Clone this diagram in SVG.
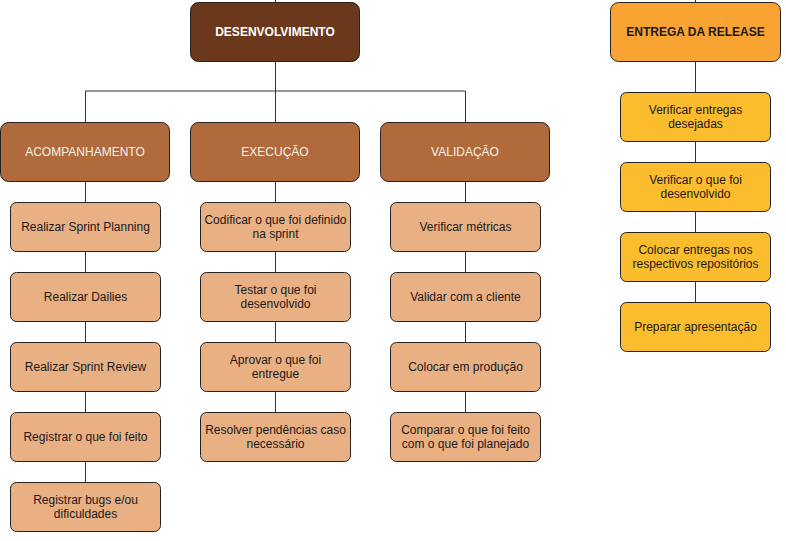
<svg xmlns="http://www.w3.org/2000/svg" width="786" height="541" viewBox="0 0 786 541">
<style>
.box{stroke:#222;stroke-width:1}
.top{fill:#6b381c}
.grp{fill:#b06a3b}
.item{fill:#e9b084}
.rel{fill:#f9a332}
.ritem{fill:#fbbd2e}
text{font-family:"Liberation Sans",Arial,sans-serif;font-size:12px;text-anchor:middle;dominant-baseline:central}
.wt{fill:#ffffff;font-weight:bold}
.lt{fill:#f5f0ea}
.dt{fill:#1a1a1a}
.bt{fill:#1a1a1a;font-weight:bold}
.ln{stroke:#333;stroke-width:1;fill:none}
</style>
<rect width="786" height="541" fill="#ffffff"/>
<g id="connectors">
<path class="ln" d="M275.5 0V2M695.5 0V2"/>
<path class="ln" d="M275.5 62V91M85.5 122V91H465.5V122M275.5 91V122"/>
<path class="ln" d="M85.5 182V202M85.5 252V272M85.5 322V342M85.5 392V412M85.5 462V482"/>
<path class="ln" d="M275.5 182V202M275.5 252V272M275.5 322V342M275.5 392V412"/>
<path class="ln" d="M465.5 182V202M465.5 252V272M465.5 322V342M465.5 392V412"/>
<path class="ln" d="M695.5 62V92M695.5 142V162M695.5 212V232M695.5 282V302"/>
</g>
<g id="desenvolvimento"><rect class="box top" x="190.5" y="2.5" width="169" height="59" rx="8"/><text class="wt" x="275" y="32">DESENVOLVIMENTO</text></g>
<g id="entrega"><rect class="box rel" x="610.5" y="2.5" width="170" height="59" rx="8"/><text class="bt" x="695.5" y="32">ENTREGA DA RELEASE</text></g>
<g id="acompanhamento"><rect class="box grp" x="0.5" y="122.5" width="169" height="59" rx="8"/><text class="lt" x="85" y="152">ACOMPANHAMENTO</text></g>
<g id="execucao"><rect class="box grp" x="190.5" y="122.5" width="169" height="59" rx="8"/><text class="lt" x="275" y="152">EXECUÇÃO</text></g>
<g id="validacao"><rect class="box grp" x="380.5" y="122.5" width="169" height="59" rx="8"/><text class="lt" x="465" y="152">VALIDAÇÃO</text></g>

<g id="a1"><rect class="box item" x="10.5" y="202.5" width="150" height="49" rx="6"/><text class="dt" x="85.5" y="227">Realizar Sprint Planning</text></g>
<g id="a2"><rect class="box item" x="10.5" y="272.5" width="150" height="49" rx="6"/><text class="dt" x="85.5" y="297">Realizar Dailies</text></g>
<g id="a3"><rect class="box item" x="10.5" y="342.5" width="150" height="49" rx="6"/><text class="dt" x="85.5" y="367">Realizar Sprint Review</text></g>
<g id="a4"><rect class="box item" x="10.5" y="412.5" width="150" height="49" rx="6"/><text class="dt" x="85.5" y="437">Registrar o que foi feito</text></g>
<g id="a5"><rect class="box item" x="10.5" y="482.5" width="150" height="49" rx="6"/><text class="dt" x="85.5" y="500">Registrar bugs e/ou</text><text class="dt" x="85.5" y="514">dificuldades</text></g>

<g id="e1"><rect class="box item" x="200.5" y="202.5" width="150" height="49" rx="6"/><text class="dt" x="275.5" y="220">Codificar o que foi definido</text><text class="dt" x="275.5" y="234">na sprint</text></g>
<g id="e2"><rect class="box item" x="200.5" y="272.5" width="150" height="49" rx="6"/><text class="dt" x="275.5" y="290">Testar o que foi</text><text class="dt" x="275.5" y="304">desenvolvido</text></g>
<g id="e3"><rect class="box item" x="200.5" y="342.5" width="150" height="49" rx="6"/><text class="dt" x="275.5" y="360">Aprovar o que foi</text><text class="dt" x="275.5" y="374">entregue</text></g>
<g id="e4"><rect class="box item" x="200.5" y="412.5" width="150" height="49" rx="6"/><text class="dt" x="275.5" y="430">Resolver pendências caso</text><text class="dt" x="275.5" y="444">necessário</text></g>

<g id="v1"><rect class="box item" x="390.5" y="202.5" width="150" height="49" rx="6"/><text class="dt" x="465.5" y="227">Verificar métricas</text></g>
<g id="v2"><rect class="box item" x="390.5" y="272.5" width="150" height="49" rx="6"/><text class="dt" x="465.5" y="297">Validar com a cliente</text></g>
<g id="v3"><rect class="box item" x="390.5" y="342.5" width="150" height="49" rx="6"/><text class="dt" x="465.5" y="367">Colocar em produção</text></g>
<g id="v4"><rect class="box item" x="390.5" y="412.5" width="150" height="49" rx="6"/><text class="dt" x="465.5" y="430">Comparar o que foi feito</text><text class="dt" x="465.5" y="444">com o que foi planejado</text></g>

<g id="r1"><rect class="box ritem" x="620.5" y="92.5" width="150" height="49" rx="6"/><text class="dt" x="695.5" y="110">Verificar entregas</text><text class="dt" x="695.5" y="124">desejadas</text></g>
<g id="r2"><rect class="box ritem" x="620.5" y="162.5" width="150" height="49" rx="6"/><text class="dt" x="695.5" y="180">Verificar o que foi</text><text class="dt" x="695.5" y="194">desenvolvido</text></g>
<g id="r3"><rect class="box ritem" x="620.5" y="232.5" width="150" height="49" rx="6"/><text class="dt" x="695.5" y="250">Colocar entregas nos</text><text class="dt" x="695.5" y="264">respectivos repositórios</text></g>
<g id="r4"><rect class="box ritem" x="620.5" y="302.5" width="150" height="49" rx="6"/><text class="dt" x="695.5" y="327">Preparar apresentação</text></g>
</svg>
